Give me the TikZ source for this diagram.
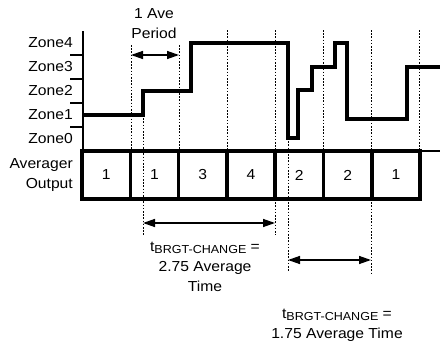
\documentclass[tikz,border=0pt]{standalone}
\usepackage{fontspec}
\setmainfont{Liberation Sans}[FakeStretch=1.08]
\usetikzlibrary{arrows.meta,positioning}
\newcommand{\Tbrgt}{t\raisebox{-2pt}{\fontsize{11.6}{12}\selectfont BRGT-CHANGE} =}

\begin{document}
\begin{tikzpicture}[x=1pt,y=-1pt,font=\fontsize{14.5}{20}\selectfont, cell/.style={draw,line width=3.6pt,minimum width=48.3pt,minimum height=48pt,inner sep=0pt,outer sep=0pt}, lbl/.style={align=right,anchor=east,inner sep=0pt}, sig/.style={line width=3.6pt}, guide/.style={line width=1pt,dash pattern=on 1.6pt off 1.6pt}, span/.style={line width=1.4pt,{Triangle[length=12pt,width=8pt]}-{Triangle[length=12pt,width=8pt]}}]
\useasboundingbox (0,0) rectangle (440,343);
% zone axis
\foreach \k/\y in {0/139,1/115,2/91,3/67,4/43}
  \node[lbl] (z\k) at (73,\y) {Zone\k};
\foreach \y in {55,79,103,127}
  \draw[line width=1.4pt] (70,\y) -- (83,\y);
\draw[line width=2.4pt] (83,31) -- (83,151) -- (440,151);
% guides
\draw[guide] (131,45) -- (131,151) (179,45) -- (179,151);
\foreach \x in {227,275,323,371,419}
  \draw[guide] (\x,30) -- (\x,151);
\draw[guide] (143,115) -- (143,235) (288,138) -- (288,272);
\draw[guide] (275,199) -- (275,235) (371,199) -- (371,275);
% signal
\draw[sig] (83,115) -| (143,91) -| (191,43) -| (288,138) -| (298,90) -| (312,67) -| (335,43) -| (347,119) -| (407,67) -- (440,67);
% averager output
\node[lbl] (avg) at (73,175) {Averager\\Output};
\node[cell] (b1) at (106.15,175) {1};
\node[cell,right=0pt of b1] (b2) {1};
\node[cell,right=0pt of b2] (b3) {3};
\node[cell,right=0pt of b3] (b4) {4};
\node[cell,right=0pt of b4] (b5) {2};
\node[cell,right=0pt of b5] (b6) {2};
\node[cell,right=0pt of b6] (b7) {1};
% spans
\node[align=center] (ave) at (154,24) {1 Ave\\Period};
\coordinate (a1) at (131,55);
\coordinate (a2) at (179,55);
\draw[span] (a1) -- (a2);
\coordinate (c1) at (143,223);
\coordinate (c2) at (275,223);
\draw[span] (c1) -- (c2);
\coordinate (d1) at (288,260);
\coordinate (d2) at (371,260);
\draw[span] (d1) -- (d2);
\node[align=center] (t1) at (205,267) {\Tbrgt\\2.75 Average\\Time};
\node[align=center] (t2) at (337,325) {\Tbrgt\\1.75 Average Time};
\end{tikzpicture}
\end{document}
